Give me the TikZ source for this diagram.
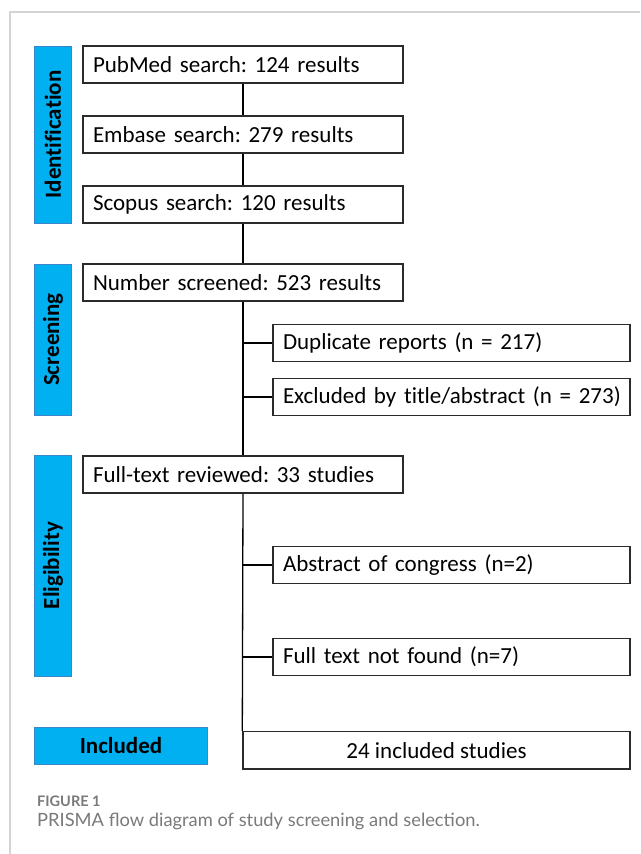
\documentclass[tikz,border=0pt]{standalone}
\usepackage{fontspec}
\setmainfont{Carlito}[Ligatures=NoCommon]
\newfontfamily\capfont{Lato}
\frenchspacing
\definecolor{barblue}{HTML}{00B0F0}
\definecolor{barline}{HTML}{3A86C8}
\definecolor{framegray}{HTML}{D4D4D4}
\definecolor{capgray}{HTML}{7A7A7A}
\definecolor{boxline}{HTML}{2B2B2B}
\tikzset{
  lbox/.style={draw=boxline, line width=1.4pt, fill=white, inner sep=0pt,
    minimum width=320pt, minimum height=37pt, text width=300pt, align=left,
    font=\frenchspacing\fontsize{23}{26}\selectfont},
  rbox/.style={draw=boxline, line width=1.4pt, fill=white, inner sep=0pt,
    minimum width=357pt, minimum height=37pt, text width=337pt, align=left,
    font=\frenchspacing\fontsize{23}{26}\selectfont},
  bar/.style={draw=barline, line width=0.8pt, fill=barblue, inner sep=0pt,
    font=\bfseries\fontsize{23}{26}\selectfont},
  conn/.style={draw=black, line width=1.3pt},
}
\begin{document}
\begin{tikzpicture}[x=1pt,y=-1pt]
\useasboundingbox (0,0) rectangle (640,854);
\fill[white] (0,0) rectangle (640,854);
% frame
\draw[framegray, line width=1.5pt] (10,854) -- (10,12) -- (640,12);

% side bars
\node[bar, minimum width=37pt, minimum height=177pt] (idbar) at (53,134.5)
  {\rotatebox{90}{Identification}};
\node[bar, minimum width=37pt, minimum height=151pt] (scbar) at (53,339.5)
  {\rotatebox{90}{Screening}};
\node[bar, minimum width=37pt, minimum height=221pt] (elbar) at (53,565.5)
  {\rotatebox{90}{Eligibility}};
\node[bar, minimum width=173pt, minimum height=37pt] (inbar) at (121,745.5)
  {Included};

% main boxes
\node[lbox] (pub) at (243,64.5) {\mbox{PubMed search: 124 results}};
\node[lbox] (emb) at (243,134.5) {\mbox{Embase search: 279 results}};
\node[lbox] (sco) at (243,204.5) {\mbox{Scopus search: 120 results}};
\node[lbox] (scr) at (243,282.5) {\mbox{Number screened: 523 results}};
\node[lbox] (full) at (243,474.5) {\mbox{Full-text reviewed: 33 studies}};

% side boxes
\node[rbox] (dup) at (451.5,343) {\mbox{Duplicate reports (n = 217)}};
\node[rbox] (exc) at (451.5,397) {\mbox{Excluded by title/abstract (n = 273)}};
\node[rbox] (abs) at (451.5,565) {\mbox{Abstract of congress (n=2)}};
\node[rbox] (nf) at (451.5,657) {\mbox{Full text not found (n=7)}};
\node[draw=boxline, line width=1.4pt, fill=white, inner sep=0pt,
  minimum width=387pt, minimum height=37.5pt, font=\fontsize{23}{26}\selectfont]
  (inc) at (436.5,750.25) {24 included studies};

% trunk
\coordinate (t1) at (243,343);
\coordinate (t2) at (243,397);
\coordinate (t3) at (243,565);
\coordinate (t4) at (243,657);
\draw[conn] (pub.south) -- (emb.north);
\draw[conn] (emb.south) -- (sco.north);
\draw[conn] (sco.south) -- (scr.north);
\draw[conn] (scr.south) -- (full.north);
\draw[conn] (full.south) -- (inc.north west);
\draw[conn] (t1) -- (dup.west);
\draw[conn] (t2) -- (exc.west);
\draw[conn] (t3) -- (abs.west);
\draw[conn] (t4) -- (nf.west);

% caption
\node[anchor=base west, inner sep=0pt, text=capgray,
  font=\capfont\bfseries\fontsize{14.5}{16}\selectfont] (fig) at (37,806) {FIGURE 1};
\node[anchor=base west, inner sep=0pt, text=capgray,
  font=\capfont\fontsize{18.3}{21}\selectfont] (cap) at (37,826)
  {PRISMA flow diagram of study screening and selection.};
\end{tikzpicture}
\end{document}
